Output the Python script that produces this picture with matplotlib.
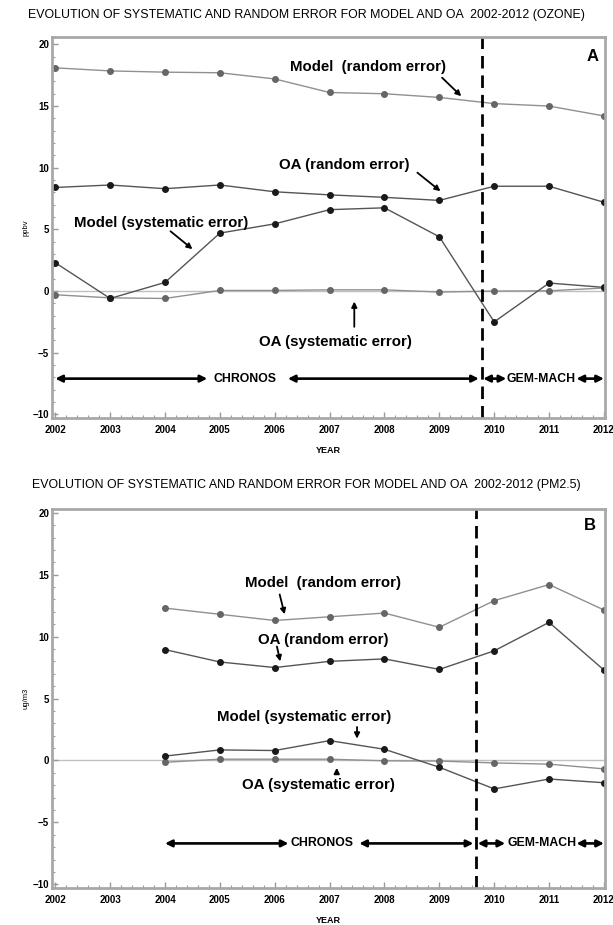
import matplotlib
matplotlib.use("Agg")
import matplotlib.pyplot as plt
from matplotlib.ticker import MultipleLocator

plt.rcParams['font.family'] = ['Liberation Sans', 'DejaVu Sans']

# panel A (ozone), 2002-2012
years_a = [2002, 2003, 2004, 2005, 2006, 2007, 2008, 2009, 2010, 2011, 2012]
model_rand_a = [18.1, 17.85, 17.75, 17.7, 17.2, 16.1, 16.0, 15.7, 15.2, 15.0, 14.2]
oa_rand_a = [8.4, 8.6, 8.3, 8.6, 8.05, 7.8, 7.6, 7.35, 8.5, 8.5, 7.2]
model_sys_a = [2.3, -0.6, 0.7, 4.7, 5.45, 6.6, 6.75, 4.4, -2.5, 0.65, 0.3]
oa_sys_a = [-0.3, -0.55, -0.6, 0.05, 0.05, 0.1, 0.1, -0.08, 0.0, 0.02, 0.25]

# panel B (PM2.5), 2004-2012
years_b = [2004, 2005, 2006, 2007, 2008, 2009, 2010, 2011, 2012]
model_rand_b = [12.3, 11.8, 11.3, 11.6, 11.9, 10.75, 12.9, 14.2, 12.15]
oa_rand_b = [8.95, 7.95, 7.5, 8.0, 8.2, 7.35, 8.85, 11.15, 7.3]
model_sys_b = [0.35, 0.85, 0.8, 1.6, 0.9, -0.55, -2.3, -1.5, -1.8]
oa_sys_b = [-0.15, 0.1, 0.1, 0.1, -0.03, -0.05, -0.2, -0.3, -0.68]

switch_a = 2009.77
switch_b = 2009.67

LIGHT = dict(color='#909090', lw=1.0, marker='o', ms=4, mfc='#666666', mec='#666666')
DARK = dict(color='#555555', lw=1.0, marker='o', ms=4, mfc='#1a1a1a', mec='#1a1a1a')


def setup(ax, ylabel, ylim):
    ax.set_xlim(2001.94, 2012.02)
    ax.set_ylim(*ylim)
    ax.axhline(0, color='#c0c0c0', lw=1.0, zorder=1)
    ax.xaxis.set_major_locator(MultipleLocator(1))
    ax.xaxis.set_minor_locator(MultipleLocator(0.2))
    ax.yaxis.set_major_locator(MultipleLocator(5))
    ax.yaxis.set_minor_locator(MultipleLocator(1))
    ax.tick_params(which='both', direction='in', colors='#999999', labelcolor='black',
                   labelsize=7, top=False, right=False)
    ax.tick_params(which='major', length=4, width=1)
    ax.tick_params(which='minor', length=2.5, width=0.8)
    ax.tick_params(axis='x', pad=5)
    ax.tick_params(axis='y', pad=2)
    for lab in ax.get_xticklabels() + ax.get_yticklabels():
        lab.set_fontweight('bold')
    for s in ax.spines.values():
        s.set_color('#a8a8a8')
        s.set_linewidth(2.0)
    ax.set_xlabel("YEAR", fontsize=6.5, fontweight='bold', labelpad=8)
    ax.set_ylabel(ylabel, fontsize=5.5)
    ax.yaxis.set_label_coords(-0.04, 0.5)


def arrow(ax, x0, x1, y):
    ax.annotate("", xy=(x1, y), xytext=(x0, y),
                arrowprops=dict(arrowstyle='<|-|>', color='black', lw=1.9,
                                mutation_scale=10, shrinkA=0, shrinkB=0))


def pointer(ax, text, tx, ty, x0, y0, x1, y1):
    ax.text(tx, ty, text, fontsize=10.8, fontweight='bold', ha='center', va='center')
    ax.annotate("", xy=(x1, y1), xytext=(x0, y0),
                arrowprops=dict(arrowstyle='-|>', color='black', lw=1.3,
                                mutation_scale=8, shrinkA=0, shrinkB=0))


fig = plt.figure(figsize=(6.13, 9.25), dpi=100)

# ---- panel A
ax = fig.add_axes([0.0848, 0.548, 0.9022, 0.412])
setup(ax, "ppbv", (-10.3, 20.6))
ax.plot(years_a, oa_sys_a, **LIGHT)
ax.plot(years_a, model_sys_a, **DARK)
ax.plot(years_a, oa_rand_a, **DARK)
ax.plot(years_a, model_rand_a, **LIGHT)
ax.axvline(switch_a, color='black', lw=2.0, ls=(0, (4.5, 2.5)))
ax.text(2011.79, 19.0, "A", fontsize=12, fontweight='bold', ha='center', va='center')

pointer(ax, "Model  (random error)", 2007.7, 18.15, 2009.05, 17.3, 2009.4, 15.8)
pointer(ax, "OA (random error)", 2007.27, 10.2, 2008.6, 9.6, 2009.02, 8.1)
pointer(ax, "Model (systematic error)", 2003.93, 5.55, 2004.1, 4.85, 2004.5, 3.4)
pointer(ax, "OA (systematic error)", 2007.1, -4.1, 2007.45, -2.9, 2007.45, -0.85)

arrow(ax, 2002.0, 2004.77, -7.1)
ax.text(2005.45, -7.1, "CHRONOS", fontsize=8.8, fontweight='bold', ha='center', va='center')
arrow(ax, 2006.24, 2009.72, -7.1)
arrow(ax, 2009.8, 2010.22, -7.1)
ax.text(2010.85, -7.1, "GEM-MACH", fontsize=8.8, fontweight='bold', ha='center', va='center')
arrow(ax, 2011.5, 2012.0, -7.1)

fig.text(0.5, 1 - 15 / 925, "EVOLUTION OF SYSTEMATIC AND RANDOM ERROR FOR MODEL AND OA  2002-2012 (OZONE)",
         fontsize=8.9, ha='center', va='center')

# ---- panel B
ax = fig.add_axes([0.0848, 0.04, 0.9022, 0.4097])
setup(ax, "ug/m3", (-10.3, 20.3))
ax.plot(years_b, oa_sys_b, **LIGHT)
ax.plot(years_b, model_sys_b, **DARK)
ax.plot(years_b, oa_rand_b, **DARK)
ax.plot(years_b, model_rand_b, **LIGHT)
ax.axvline(switch_b, color='black', lw=2.0, ls=(0, (4.5, 2.5)))
ax.text(2011.75, 19.0, "B", fontsize=12, fontweight='bold', ha='center', va='center')

pointer(ax, "Model  (random error)", 2006.88, 14.35, 2006.09, 13.4, 2006.18, 11.8)
pointer(ax, "OA (random error)", 2006.88, 9.75, 2006.04, 9.2, 2006.1, 8.0)
pointer(ax, "Model (systematic error)", 2006.53, 3.5, 2007.5, 2.7, 2007.5, 1.76)
pointer(ax, "OA (systematic error)", 2006.8, -2.0, 2007.13, -1.1, 2007.13, -0.6)

arrow(ax, 2004.0, 2006.25, -6.7)
ax.text(2006.87, -6.7, "CHRONOS", fontsize=8.8, fontweight='bold', ha='center', va='center')
arrow(ax, 2007.54, 2009.62, -6.7)
arrow(ax, 2009.7, 2010.2, -6.7)
ax.text(2010.87, -6.7, "GEM-MACH", fontsize=8.8, fontweight='bold', ha='center', va='center')
arrow(ax, 2011.5, 2012.0, -6.7)

fig.text(0.5, 1 - 485 / 925, "EVOLUTION OF SYSTEMATIC AND RANDOM ERROR FOR MODEL AND OA  2002-2012 (PM2.5)",
         fontsize=8.9, ha='center', va='center')

fig.savefig("out.png", dpi=100)
